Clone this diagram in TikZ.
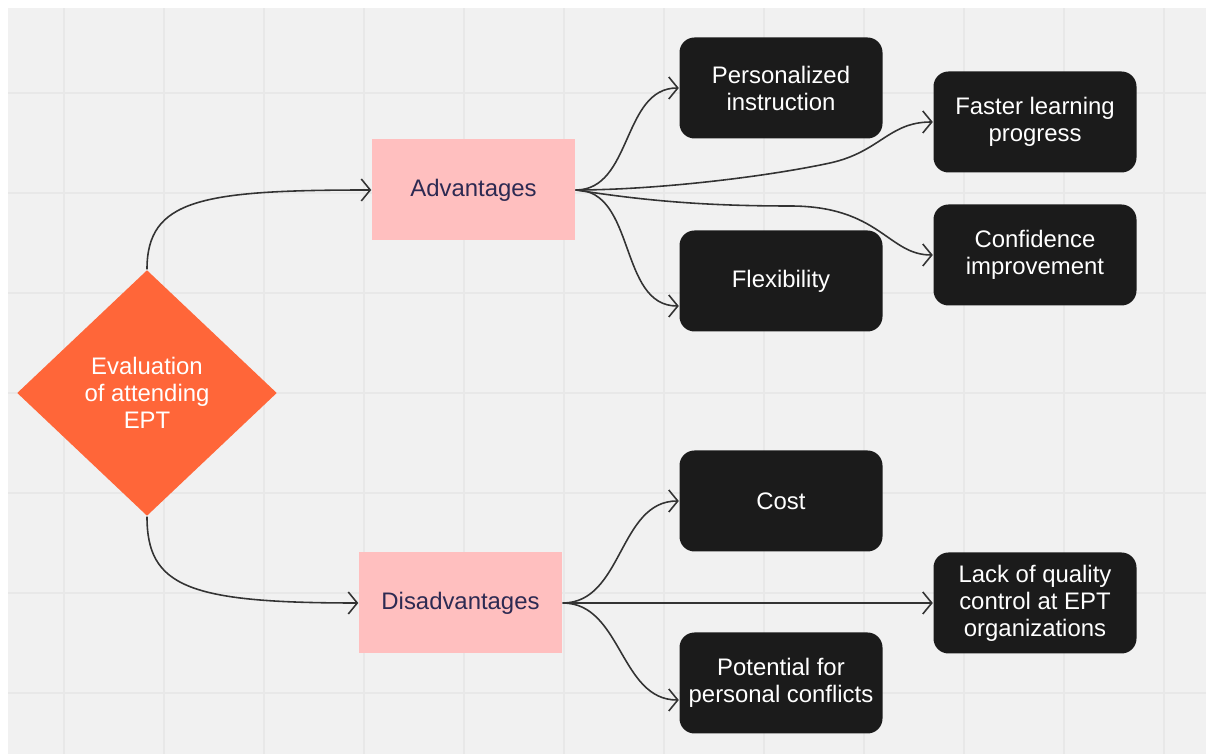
\documentclass[tikz,border=0pt]{standalone}
\usepackage{fontspec}
\setmainfont{Liberation Sans}
\usetikzlibrary{shapes.geometric}
\usetikzlibrary{arrows.meta}
\usetikzlibrary{positioning}

\definecolor{bggray}{HTML}{F1F1F1}
\definecolor{gridgray}{HTML}{E8E8E8}
\definecolor{evalorange}{HTML}{FF6639}
\definecolor{pinkfill}{HTML}{FFBFBF}
\definecolor{inkblue}{HTML}{2D2A52}
\definecolor{boxblack}{HTML}{1B1B1B}
\definecolor{wire}{HTML}{333333}

\tikzset{
	evalnode/.style = {diamond, fill = evalorange, text = white, align = center, inner sep = 0pt, minimum width = 2.6cm, minimum height = 2.46cm},
	sidebox/.style = {rectangle, fill = pinkfill, text = inkblue, minimum width = 2.03cm, minimum height = 1.01cm},
	itembox/.style = {rectangle, rounded corners = 0.15cm, fill = boxblack, text = white, align = center, inner xsep = 1pt, minimum width = 2.03cm, minimum height = 1.01cm},
	link/.style = {draw = wire, line width = 0.45pt, -{Straight Barb[length = 0.9mm, width = 2.2mm]}}
}

\begin{document}
\begin{tikzpicture}[font=\fontsize{6.8}{7.7}\selectfont]
		\useasboundingbox (0, 0) rectangle (12.06, -7.54);
		\fill [bggray] (0.08, -0.08) rectangle (12.06, -7.54);
		\foreach \k in {0,...,11}
			\draw [gridgray, line width = 0.012cm] (\k + 0.64, -0.08) -- (\k + 0.64, -7.54);
		\foreach \k in {0,...,6}
			\draw [gridgray, line width = 0.012cm] (0.08, -\k - 0.93) -- (12.06, -\k - 0.93);

		\node (eval) [evalnode] at (1.47, -3.93) {Evaluation\\of attending\\EPT};
		\node (adv) [sidebox] at (4.735, -1.90) {Advantages};
		\node (disadv) [sidebox] at (4.605, -6.03) {Disadvantages};

		\node (pers) [itembox] at (7.81, -0.88) {Personalized\\instruction};
		\node (fast) [itembox] at (10.35, -1.22) {Faster learning\\progress};
		\node (conf) [itembox] at (10.35, -2.55) {Confidence\\improvement};
		\node (flex) [itembox] at (7.81, -2.81) {Flexibility};
		\node (cost) [itembox] at (7.81, -5.01) {Cost};
		\node (lack) [itembox] at (10.35, -6.03) {Lack of quality\\control at EPT\\organizations};
		\node (pot) [itembox] at (7.81, -6.83) {Potential for\\personal conflicts};

		\coordinate (fastbend) at (8.30, -1.63);
		\coordinate (confbend) at (7.90, -2.06);

		\draw [link] (eval.north) .. controls +(0, 0.7) and +(-1.7, 0) .. (adv.west);
		\draw [link] (eval.south) .. controls +(0, -0.7) and +(-1.7, 0) .. (disadv.west);

		\draw [link] (adv.east) to [out = 0, in = 180] (pers.west);
		\draw [link] (adv.east) .. controls +(0.75, 0) and +(-0.7, -0.15) .. (fastbend)
			.. controls +(0.5, 0.11) and +(-0.44, 0) .. (fast.west);
		\draw [link] (adv.east) .. controls +(0.65, -0.1) and +(-0.9, 0) .. (confbend)
			.. controls +(0.9, 0) and +(-0.45, 0) .. (conf.west);
		\draw [link] (adv.east) to [out = 0, in = 180] ([yshift = -0.25cm] flex.west);

		\draw [link] (disadv.east) to [out = 0, in = 180] (cost.west);
		\draw [link] (disadv.east) -- (lack.west);
		\draw [link] (disadv.east) to [out = 0, in = 180] ([yshift = -0.17cm] pot.west);
	\end{tikzpicture}
\end{document}
